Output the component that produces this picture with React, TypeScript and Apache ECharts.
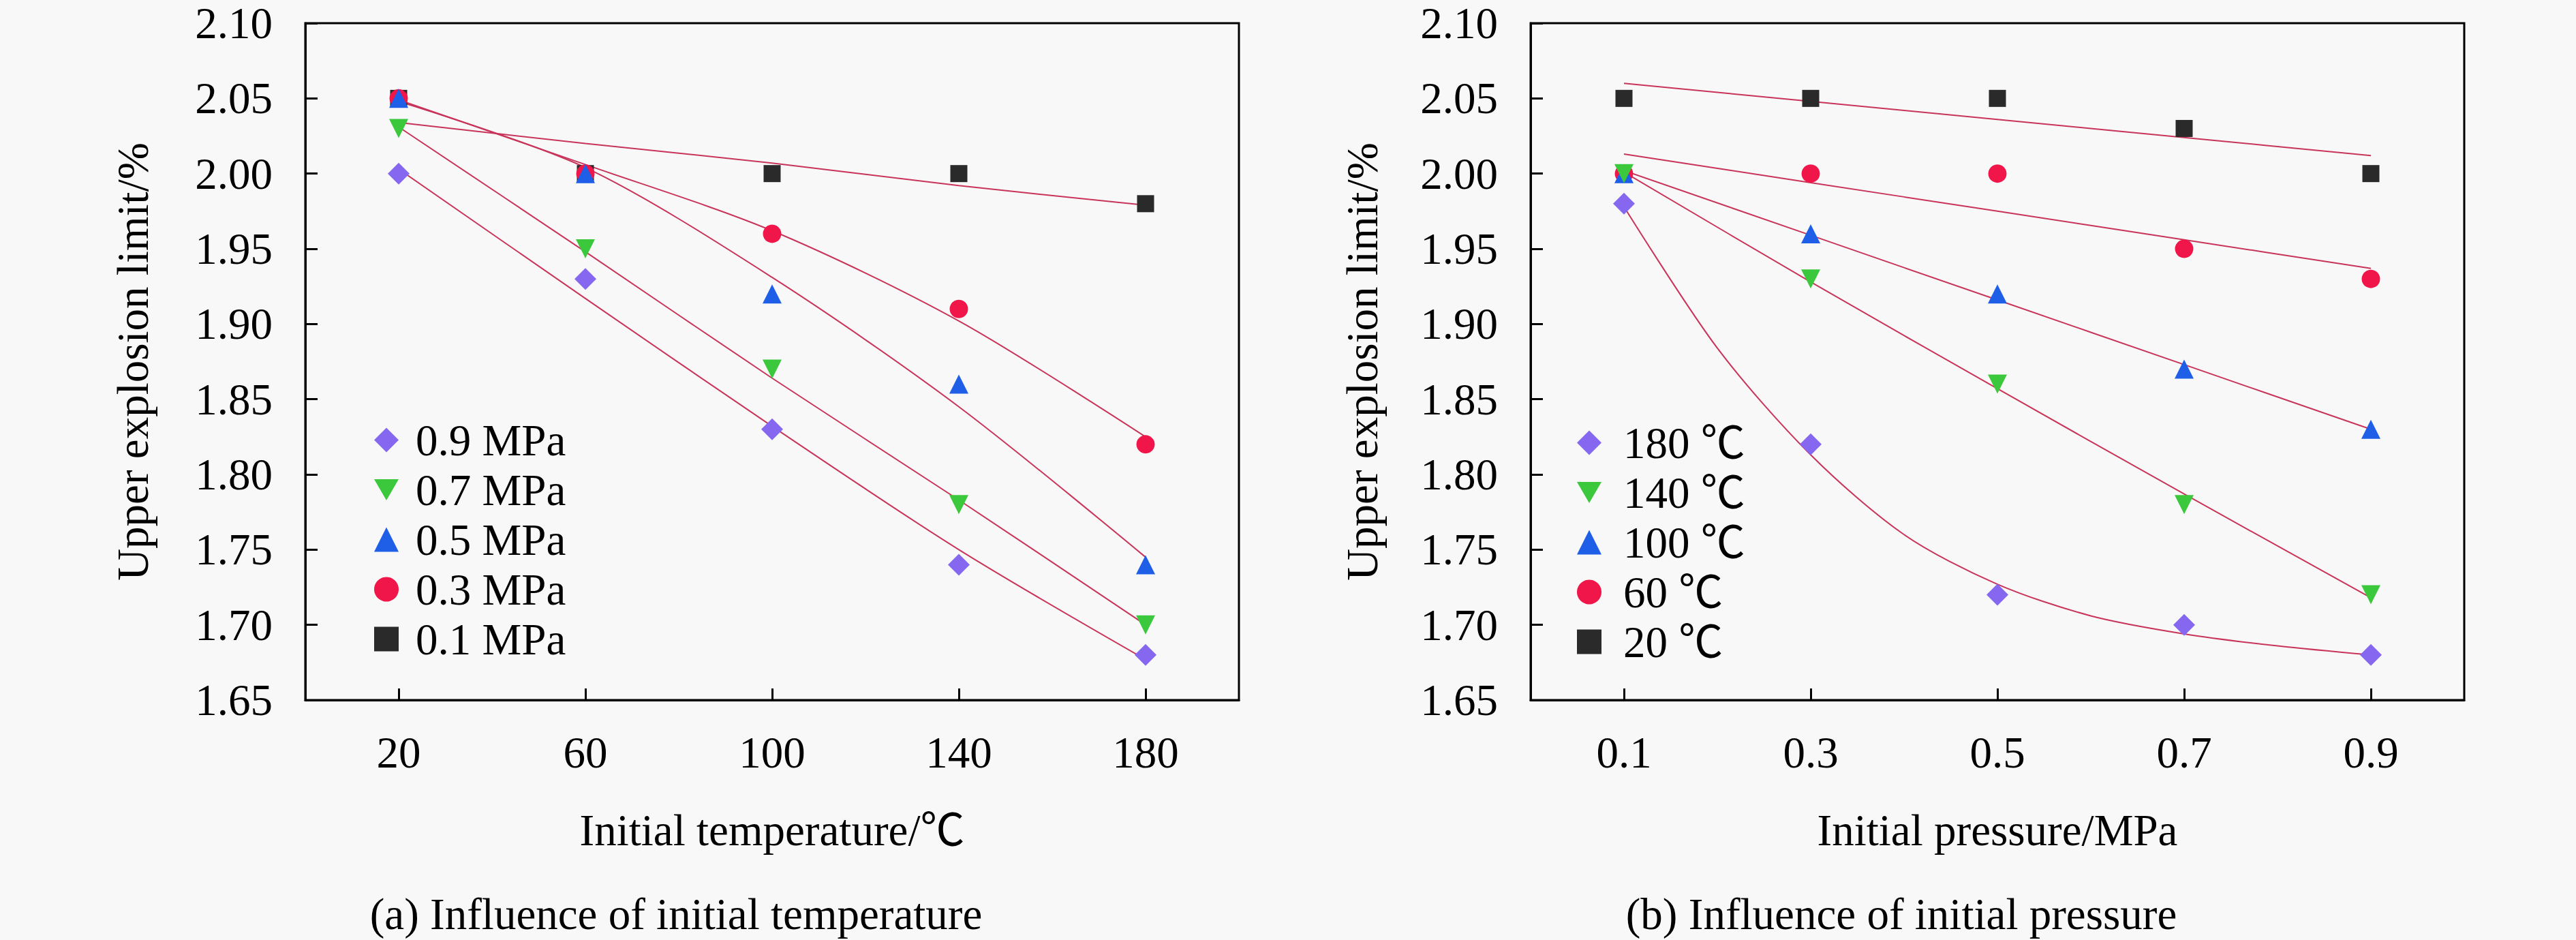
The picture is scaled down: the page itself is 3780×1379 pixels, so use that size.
import React, { useEffect, useRef } from "react";
import * as echarts from "echarts";

// ---- Data ----
const tempX = [20, 60, 100, 140, 180];
const tempNames = ["0.9 MPa", "0.7 MPa", "0.5 MPa", "0.3 MPa", "0.1 MPa"];
const p09 = [2.0, 1.93, 1.83, 1.74, 1.68];
const p07 = [2.03, 1.95, 1.87, 1.78, 1.7];
const p05 = [2.05, 2.0, 1.92, 1.86, 1.74];
const p03 = [2.05, 2.0, 1.96, 1.91, 1.82];
const p01 = [2.05, 2.0, 2.0, 2.0, 1.98];
const fitP09 = [2.003, 1.917, 1.832, 1.75, 1.677];
const fitP07 = [2.031, 1.948, 1.864, 1.783, 1.7];
const fitP05 = [2.048, 2.004, 1.931, 1.845, 1.745];
const fitP03 = [2.049, 2.006, 1.962, 1.902, 1.825];
const fitP01 = [2.034, 2.02, 2.007, 1.992, 1.979];

const pressX = [0.1, 0.3, 0.5, 0.7, 0.9];
const pressNames = ["180 ℃", "140 ℃", "100 ℃", "60 ℃", "20 ℃"];
const t180 = [1.98, 1.82, 1.72, 1.7, 1.68];
const t140 = [2.0, 1.93, 1.86, 1.78, 1.72];
const t100 = [2.0, 1.96, 1.92, 1.87, 1.83];
const t60 = [2.0, 2.0, 2.0, 1.95, 1.93];
const t20 = [2.05, 2.05, 2.05, 2.03, 2.0];
const fit180X = [0.1, 0.2, 0.3, 0.4, 0.5, 0.6, 0.7, 0.8, 0.9];
const fitT180 = [1.978, 1.884, 1.813, 1.76, 1.727, 1.706, 1.694, 1.686, 1.68];
const fitT140 = [2.001, 1.928, 1.857, 1.787, 1.718];
const fitT100 = [2.002, 1.959, 1.916, 1.873, 1.83];
const fitT60 = [2.013, 1.994, 1.975, 1.956, 1.937];
const fitT20 = [2.06, 2.048, 2.036, 2.024, 2.012];

const yTicksMin = 1.65;
const yTicksMax = 2.1;
const yInterval = 0.05;

// ---- Styles ----
const SERIF = '"Liberation Serif", "Times New Roman", "Noto Sans CJK SC", serif';
const FS = 65;
const DOWN_TRI = "path://M0,0 L10,0 L5,8.66 Z";
const markers = [
  { symbol: "diamond", legendIcon: "diamond", size: 32, rotate: 0, color: "#8668f0" },
  { symbol: "triangle", legendIcon: DOWN_TRI, size: 28, rotate: 180, color: "#3cc83c" },
  { symbol: "triangle", legendIcon: "triangle", size: 28, rotate: 0, color: "#1f5fe8" },
  { symbol: "circle", legendIcon: "circle", size: 27, rotate: 0, color: "#f0164a" },
  { symbol: "rect", legendIcon: "rect", size: 25, rotate: 0, color: "#2a2a2a" },
];
const FIT_COLOR = "#c8345a";

const pairs = (xs: number[], ys: number[]) => xs.map((x, i) => [x, ys[i]]);

export default function App() {
  const ref = useRef<HTMLDivElement>(null);
  useEffect(() => {
    document.body.style.margin = "0";
    document.body.style.background = "#f8f8f8";
    const chart = echarts.init(ref.current!, null, { renderer: "svg" });

    const leftSets = [p09, p07, p05, p03, p01];
    const leftFits = [fitP09, fitP07, fitP05, fitP03, fitP01];
    const rightSets = [t180, t140, t100, t60, t20];
    const rightFits = [fitT180, fitT140, fitT100, fitT60, fitT20];

    const series: any[] = [];
    leftFits.forEach((f, i) => {
      series.push({
        type: "line",
        name: "fitL" + i,
        xAxisIndex: 0,
        yAxisIndex: 0,
        data: pairs(tempX, f),
        smooth: 0.3,
        symbol: "none",
        lineStyle: { color: FIT_COLOR, width: 2 },
        z: 2,
      });
    });
    rightFits.forEach((f, i) => {
      series.push({
        type: "line",
        name: "fitR" + i,
        xAxisIndex: 1,
        yAxisIndex: 1,
        data: pairs(i === 0 ? fit180X : pressX, f),
        smooth: 0.3,
        symbol: "none",
        lineStyle: { color: FIT_COLOR, width: 2 },
        z: 2,
      });
    });
    for (let i = 4; i >= 0; i--) {
      const m = markers[i];
      series.push({
        type: "scatter",
        name: tempNames[i],
        xAxisIndex: 0,
        yAxisIndex: 0,
        data: pairs(tempX, leftSets[i]),
        symbol: m.symbol,
        symbolSize: m.size,
        symbolRotate: m.rotate,
        itemStyle: { color: m.color, opacity: 1 },
        z: 3,
      });
      series.push({
        type: "scatter",
        name: pressNames[i],
        xAxisIndex: 1,
        yAxisIndex: 1,
        data: pairs(pressX, rightSets[i]),
        symbol: m.symbol,
        symbolSize: m.size,
        symbolRotate: m.rotate,
        itemStyle: { color: m.color, opacity: 1 },
        z: 3,
      });
    }

    const axisLineStyle = { color: "#000", width: 3 };
    const labelStyle = { fontFamily: SERIF, fontSize: FS, color: "#000" };

    const makeX = (gi: number, min: number, max: number, ticks: number[], name: string, dec: number) => ({
      type: "value",
      gridIndex: gi,
      min,
      max,
      name,
      nameLocation: "middle",
      nameGap: 158,
      nameTextStyle: labelStyle,
      axisLine: { show: true, lineStyle: axisLineStyle },
      axisTick: { show: true, inside: true, length: 17, customValues: ticks, lineStyle: axisLineStyle },
      axisLabel: {
        ...labelStyle,
        margin: 44,
        customValues: ticks,
        formatter: (v: number) => (dec > 0 ? v.toFixed(dec) : String(Math.round(v))),
      },
      splitLine: { show: false },
    });
    const makeY = (gi: number, gap: number) => ({
      type: "value",
      gridIndex: gi,
      min: yTicksMin,
      max: yTicksMax,
      interval: yInterval,
      name: "Upper explosion limit/%",
      nameLocation: "middle",
      nameGap: gap,
      nameTextStyle: labelStyle,
      axisLine: { show: true, lineStyle: axisLineStyle },
      axisTick: { show: true, inside: true, length: 18, lineStyle: axisLineStyle },
      axisLabel: { ...labelStyle, margin: 48, formatter: (v: number) => v.toFixed(2) },
      splitLine: { show: false },
    });

    const legendBase = {
      orient: "vertical",
      itemWidth: 36,
      itemHeight: 36,
      itemGap: 8,
      selectedMode: false,
    };
    const legendData = (names: string[]) => names.map((n, i) => ({ name: n, icon: markers[i].legendIcon }));

    chart.setOption({
      animation: false,
      backgroundColor: "#f8f8f8",
      textStyle: { fontFamily: SERIF },
      grid: [
        { left: 448, top: 34, width: 1370, height: 993, show: true, borderColor: "#000", borderWidth: 3, backgroundColor: "transparent" },
        { left: 2246, top: 34, width: 1370, height: 993, show: true, borderColor: "#000", borderWidth: 3, backgroundColor: "transparent" },
      ],
      xAxis: [
        makeX(0, 0, 200, tempX, "Initial temperature/℃", 0),
        makeX(1, 0, 1.0, pressX, "Initial pressure/MPa", 1),
      ],
      yAxis: [makeY(0, 221), makeY(1, 215)],
      legend: [
        { ...legendBase, left: 544, top: 608, data: legendData(tempNames), textStyle: { ...labelStyle, lineHeight: FS, padding: [0, 0, 0, 20] } },
        { ...legendBase, left: 2309, top: 612, data: legendData(pressNames), textStyle: { ...labelStyle, lineHeight: FS, padding: [0, 0, 0, 27] } },
      ],
      graphic: [
        {
          type: "text",
          x: 992,
          y: 1341,
          style: { text: "(a) Influence of initial temperature", fontFamily: SERIF, fontSize: FS, fill: "#000", textAlign: "center", textVerticalAlign: "middle" },
        },
        {
          type: "text",
          x: 2790,
          y: 1341,
          style: { text: "(b) Influence of initial pressure", fontFamily: SERIF, fontSize: FS, fill: "#000", textAlign: "center", textVerticalAlign: "middle" },
        },
      ],
      series,
    });
    return () => chart.dispose();
  }, []);
  return <div ref={ref} style={{ width: 3780, height: 1379 }} />;
}
